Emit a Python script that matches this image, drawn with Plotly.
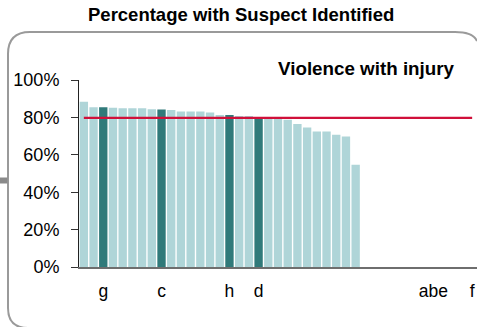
import plotly.graph_objects as go

# ---- data ----
labels = ["", "", "g", "", "", "", "", "", "c", "", "", "", "", "", "", "h", "", "", "d", "",
          "", "", "", "", "", "", "", "", "", "", "", "", "", "", "", "", "abe", "", "", "", "f"]
values = [88.4, 85.4, 85.4, 85.2, 84.9, 84.9, 84.9, 84.4, 84.2, 84.0,
          83.1, 83.1, 83.1, 82.6, 81.3, 81.3, 80.8, 80.8, 80.0, 79.5,
          79.5, 78.7, 76.5, 74.6, 72.5, 72.4, 70.7, 69.8, 54.7]
target = 79.7
y_ticks = [0, 20, 40, 60, 80, 100]
y_tick_text = ["0%", "20%", "40%", "60%", "80%", "100%"]
title_text = "Percentage with Suspect Identified"
subtitle_text = "Violence with injury"

LIGHT = "#afd5d8"
DARK = "#307a7a"
RED = "#d0103a"
FONT = "Liberation Sans, Arial, sans-serif"

W, H = 477, 327
L, R, T, B = 79, 0, 80, 60
PW, PH = W - L - R, H - T - B


def px(x):
    return (x - L) / PW


def py(y):
    return (H - B - y) / PH


xs = list(range(len(values)))
colors = [DARK if labels[i] else LIGHT for i in xs]

fig = go.Figure()
fig.add_trace(go.Bar(x=xs, y=values, marker=dict(color=colors, line=dict(width=0)),
                     hoverinfo="skip", showlegend=False))
fig.add_trace(go.Scatter(x=[0, len(labels) - 1], y=[target, target], mode="lines",
                         line=dict(color=RED, width=2.2), hoverinfo="skip", showlegend=False))

# rounded border (runs past the picture's right and bottom edges)
x0, x1, y0, y1, r = 8, 477, 32, 328, 22
path = (f"M {px(x1)},{py(y0 + 9)} "
        f"Q {px(x1 - 4)},{py(y0)} {px(x1 - r)},{py(y0)} "
        f"L {px(x0 + r)},{py(y0)} "
        f"Q {px(x0)},{py(y0)} {px(x0)},{py(y0 + r)} "
        f"L {px(x0)},{py(y1 - 20)} "
        f"Q {px(x0)},{py(y1)} {px(x0 + 20)},{py(y1)} "
        f"L {px(x1)},{py(y1)}")
fig.add_shape(type="path", xref="paper", yref="paper", path=path,
              line=dict(color="#9a9a9a", width=2), layer="below")
fig.add_shape(type="rect", xref="paper", yref="paper",
              x0=px(0), x1=px(7.5), y0=py(183.5), y1=py(177.5),
              fillcolor="#8a8a8a", line=dict(width=0), layer="below")

fig.add_annotation(text=f"<b>{title_text}</b>", xref="paper", yref="paper",
                   x=px(241), y=py(15), xanchor="center", yanchor="middle",
                   showarrow=False, font=dict(family=FONT, size=18.5, color="#000"))
fig.add_annotation(text=f"<b>{subtitle_text}</b>", xref="paper", yref="paper",
                   x=px(366.5), y=py(68), xanchor="center", yanchor="middle",
                   showarrow=False, font=dict(family=FONT, size=18.8, color="#000"))

fig.update_layout(
    width=W, height=H,
    margin=dict(l=L, r=R, t=T, b=B, pad=0),
    paper_bgcolor="white", plot_bgcolor="white",
    bargap=0.14,
    font=dict(family=FONT, size=17, color="#000"),
    xaxis=dict(range=[-0.5, len(labels) - 0.5],
               tickmode="array",
               tickvals=[i for i, l in enumerate(labels) if l],
               ticktext=[l for l in labels if l],
               ticks="", showgrid=False, zeroline=False,
               showline=True, linecolor="#6e6e6e", linewidth=1.5,
               tickfont=dict(size=17.5),
               ticklabelstandoff=7, fixedrange=True),
    yaxis=dict(range=[0, 100], tickmode="array", tickvals=y_ticks, ticktext=y_tick_text,
               ticks="outside", ticklen=7, tickcolor="#333", tickwidth=1,
               showgrid=False, zeroline=False,
               showline=True, linecolor="#222", linewidth=1,
               tickfont=dict(size=18),
               ticklabelstandoff=8, fixedrange=True),
)

fig.write_html("out.html", config={"displayModeBar": False},
               post_script="document.body.style.margin='0';document.body.style.padding='0';")
